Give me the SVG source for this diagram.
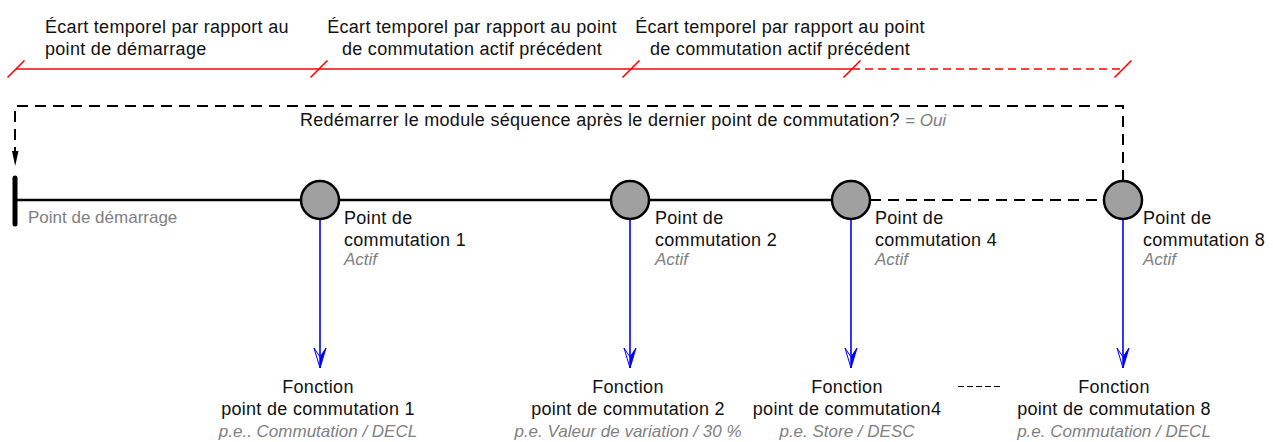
<svg xmlns="http://www.w3.org/2000/svg" width="1273" height="442" viewBox="0 0 1273 442">
<style>
  .t{font-family:"Liberation Sans",Arial,sans-serif;font-size:18px;fill:#111;letter-spacing:0.3px}
  .g{font-family:"Liberation Sans",Arial,sans-serif;font-size:17px;fill:#808080}
  .i{font-family:"Liberation Sans",Arial,sans-serif;font-size:17px;fill:#808080;font-style:italic}
  .red{stroke:#ff0000;stroke-width:1.6;fill:none}
  .blue{stroke:#0000ff;stroke-width:1.6;fill:none}
  .blk{stroke:#000;stroke-width:2.5;fill:none}
  .dash{stroke:#000;stroke-width:2;fill:none;stroke-dasharray:11 7}
  .node{fill:#a0a0a0;stroke:#000;stroke-width:2.5}
</style>
<defs>
  <marker id="barrow" markerUnits="userSpaceOnUse" markerWidth="24" markerHeight="16" viewBox="-22 -8 24 16" refX="0" refY="0" orient="auto">
    <path d="M0,0 L-20,6 L-11,0 Z" fill="#fff" stroke="#0000ff" stroke-width="1"/>
    <path d="M0,0 L-11,0 L-20,-6 Z" fill="#0000ff" stroke="#0000ff" stroke-width="1"/>
  </marker>
</defs>

<g id="timing">
  <path class="red" d="M16,69 H852"/>
  <path class="red" d="M852,69 H1123" stroke-dasharray="8 5"/>
  <path class="red" d="M7.5,77.5 L24.5,60.5 M310.5,77.5 L327.5,60.5 M622.5,77.5 L639.5,60.5 M843.5,77.5 L860.5,60.5 M1114.5,77.5 L1131.5,60.5"/>
  <text class="t" x="45" y="33">Écart temporel par rapport au</text>
  <text class="t" x="45" y="55">point de démarrage</text>
  <text class="t" x="472" y="33" text-anchor="middle">Écart temporel par rapport au point</text>
  <text class="t" x="472" y="55" text-anchor="middle">de commutation actif précédent</text>
  <text class="t" x="780" y="33" text-anchor="middle">Écart temporel par rapport au point</text>
  <text class="t" x="780" y="55" text-anchor="middle">de commutation actif précédent</text>
</g>

<g id="connectors">
  <path class="dash" d="M1123,181 V106 H15 V152"/>
  <polygon points="12,151 18.5,151 15.2,166" fill="#000"/>
  <path class="blk" d="M15,200 H852"/>
  <path class="dash" d="M852,200 H1123" stroke-dasharray="10 7"/>
  <path class="blue" d="M320,219 V368" marker-end="url(#barrow)"/>
  <path class="blue" d="M630,219 V368" marker-end="url(#barrow)"/>
  <path class="blue" d="M851,219 V368" marker-end="url(#barrow)"/>
  <path class="blue" d="M1123,219 V368" marker-end="url(#barrow)"/>
  <path d="M958,386.5 H1002" stroke="#000" stroke-width="1.2" stroke-dasharray="6 3"/>
</g>

<text class="t" x="300" y="126">Redémarrer le module séquence après le dernier point de commutation? <tspan class="i" style="letter-spacing:0">= Oui</tspan></text>

<g id="start">
  <line x1="15" y1="178" x2="15" y2="224" stroke="#000" stroke-width="5" stroke-linecap="round"/>
  <text class="g" x="28" y="223">Point de démarrage</text>
</g>

<g id="sp1">
  <circle class="node" cx="320" cy="200" r="19"/>
  <text class="t" x="344" y="224">Point de</text>
  <text class="t" x="344" y="246">commutation 1</text>
  <text class="i" x="344" y="265">Actif</text>
</g>
<g id="sp2">
  <circle class="node" cx="630" cy="200" r="19"/>
  <text class="t" x="655" y="224">Point de</text>
  <text class="t" x="655" y="246">commutation 2</text>
  <text class="i" x="655" y="265">Actif</text>
</g>
<g id="sp4">
  <circle class="node" cx="851" cy="200" r="19"/>
  <text class="t" x="875" y="224">Point de</text>
  <text class="t" x="875" y="246">commutation 4</text>
  <text class="i" x="875" y="265">Actif</text>
</g>
<g id="sp8">
  <circle class="node" cx="1123" cy="200" r="19"/>
  <text class="t" x="1143" y="224">Point de</text>
  <text class="t" x="1143" y="246">commutation 8</text>
  <text class="i" x="1143" y="265">Actif</text>
</g>

<g id="f1">
  <text class="t" x="318" y="393" text-anchor="middle">Fonction</text>
  <text class="t" x="318" y="415" text-anchor="middle">point de commutation 1</text>
  <text class="i" x="318" y="437" text-anchor="middle">p.e.. Commutation / DECL</text>
</g>
<g id="f2">
  <text class="t" x="628" y="393" text-anchor="middle">Fonction</text>
  <text class="t" x="628" y="415" text-anchor="middle">point de commutation 2</text>
  <text class="i" x="628" y="437" text-anchor="middle">p.e. Valeur de variation / 30 %</text>
</g>
<g id="f4">
  <text class="t" x="847" y="393" text-anchor="middle">Fonction</text>
  <text class="t" x="847" y="415" text-anchor="middle">point de commutation4</text>
  <text class="i" x="847" y="437" text-anchor="middle">p.e. Store / DESC</text>
</g>
<g id="f8">
  <text class="t" x="1114" y="393" text-anchor="middle">Fonction</text>
  <text class="t" x="1114" y="415" text-anchor="middle">point de commutation 8</text>
  <text class="i" x="1114" y="437" text-anchor="middle">p.e. Commutation / DECL</text>
</g>
</svg>
